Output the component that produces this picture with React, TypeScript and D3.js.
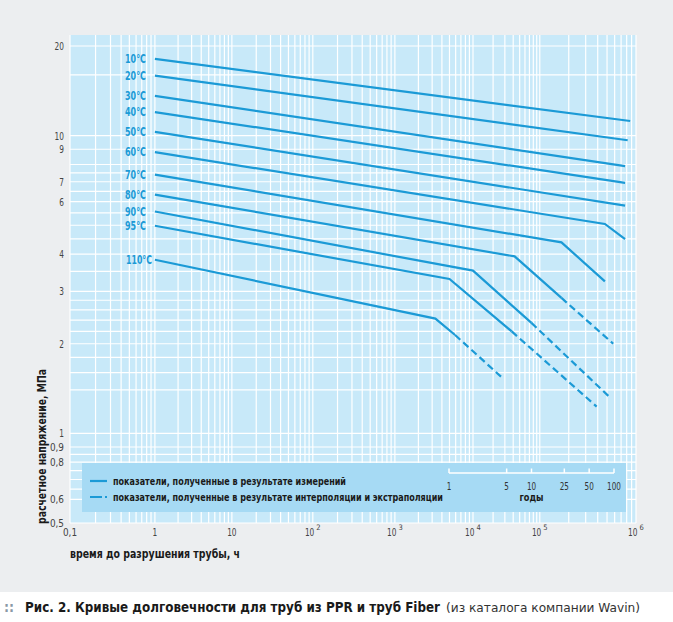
import * as d3 from "d3";

// температуры (подписи кривых)
const temps = ["10°C", "20°C", "30°C", "40°C", "50°C", "60°C", "70°C", "80°C", "90°C", "95°C", "110°C"];

// измеренные участки: [время, ч; напряжение, МПа]
const measured: [number, number][][] = [
  [[1, 18.1], [8.7e5, 11.2]],
  [[1, 15.9], [8.2e5, 9.65]],
  [[1, 13.6], [7.7e5, 7.9]],
  [[1, 12.0], [7.7e5, 6.94]],
  [[1, 10.3], [7.7e5, 5.82]],
  [[1, 8.8], [4.75e5, 5.05], [7.7e5, 4.49]],
  [[1, 7.4], [1.68e5, 4.38], [4.75e5, 3.24]],
  [[1, 6.34], [4.2e4, 3.93], [1.68e5, 2.85]],
  [[1, 5.56], [1e4, 3.52], [7.5e4, 2.35]],
  [[1, 4.98], [5e3, 3.3], [3.8e4, 2.2]],
  [[1, 3.83], [3.3e3, 2.43], [5.9e3, 2.14]],
];

// интерполяция / экстраполяция (пунктир)
const extrapolated: [number, number][][] = [
  [], [], [], [], [], [], [],
  [[1.68e5, 2.85], [5.8e5, 2.0]],
  [[7.5e4, 2.35], [5.5e5, 1.31]],
  [[3.8e4, 2.2], [3.9e5, 1.23]],
  [[5.9e3, 2.14], [2.8e4, 1.53]],
];

const xTicks = [0.1, 1, 10, 100, 1e3, 1e4, 1e5, 1e6];
const xTickLabels = ["0,1", "1", "10", "10^2", "10^3", "10^4", "10^5", "10^6"];
// доли ширины, на которых стоят декады в оригинале (шкала неравномерная)
const xTickFrac = [0, 0.15, 0.286, 0.429, 0.574, 0.712, 0.83, 1];

const yTicks = [0.5, 0.6, 0.8, 0.9, 1, 2, 3, 4, 6, 7, 9, 10, 20];
const yTickLabels = ["0,5", "0,6", "0,8", "0,9", "1", "2", "3", "4", "6", "7", "9", "10", "20"];
const yGrid = [0.5, 0.6, 0.65, 0.7, 0.75, 0.8, 0.85, 0.9, 1, 1.4, 1.6, 1.8, 2, 2.2, 2.4, 2.6, 2.8, 3, 3.5, 4, 4.5, 5, 5.5, 6, 6.5, 7, 7.5, 8, 9, 10, 16, 20];

const yearTicks = [1, 5, 10, 25, 50, 100];

const W = 673;
const H = 622;
const left = 70;
const right = 636;
const top = 35;
const bottom = 523;

const BLUE = "#1b9ad6";
const FONT = "'DejaVu Sans Condensed', 'DejaVu Sans', sans-serif";

export default function App() {
  const x = d3
    .scaleLog()
    .domain(xTicks)
    .range(xTickFrac.map((f) => left + f * (right - left)));
  const y = d3.scaleLog().domain([0.5, 20]).range([bottom, 46]);
  const years = d3.scaleLog().domain([1, 100]).range([449, 614]);

  const line = d3
    .line<[number, number]>()
    .x((d) => x(d[0]))
    .y((d) => y(d[1]));

  // сетка: минорные деления по каждой декаде
  const xGrid: number[] = [];
  for (let e = -1; e < 6; e++) {
    for (let m = 1; m < 10; m++) xGrid.push(m * Math.pow(10, e));
  }
  xGrid.push(1e6);

  const squeeze = { lengthAdjust: "spacingAndGlyphs" as const };

  return (
    <svg width={W} height={H} style={{ position: "absolute", left: 0, top: 0, display: "block" }}>
      <rect x={0} y={0} width={W} height={592} fill="#eceef0" />
      <rect x={left} y={top} width={right - left} height={bottom - top} fill="#c8e9f9" />

      {yGrid.map((v) => (
        <line key={"h" + v} x1={left} x2={right} y1={y(v)} y2={y(v)} stroke="#fff" strokeWidth={1.2} />
      ))}
      {xGrid.map((v) => (
        <line key={"v" + v} x1={x(v)} x2={x(v)} y1={top} y2={bottom} stroke="#fff" strokeWidth={1.2} />
      ))}

      {/* легенда */}
      <rect x={82} y={463} width={544} height={49} fill="#a6daf4" />
      <line x1={90} x2={107} y1={481} y2={481} stroke={BLUE} strokeWidth={2.2} />
      <line x1={90} x2={107} y1={497} y2={497} stroke={BLUE} strokeWidth={2.2} strokeDasharray="12 3 3 40" />
      <text x={113} y={484.5} fontFamily={FONT} fontWeight="bold" fontSize={11} fill="#1a1a1a" textLength={233} {...squeeze}>
        показатели, полученные в результате измерений
      </text>
      <text x={113} y={500.5} fontFamily={FONT} fontWeight="bold" fontSize={11} fill="#1a1a1a" textLength={330} {...squeeze}>
        показатели, полученные в результате интерполяции и экстраполяции
      </text>
      <line x1={years(1)} x2={years(100)} y1={473} y2={473} stroke="#fff" strokeWidth={1.5} />
      {yearTicks.map((t) => (
        <g key={"yr" + t}>
          <line x1={years(t)} x2={years(t)} y1={468.5} y2={473} stroke="#fff" strokeWidth={1.5} />
          <text x={years(t)} y={490} textAnchor="middle" fontFamily={FONT} fontSize={10.5} fill="#333" textLength={String(t).length * 4.6} {...squeeze}>
            {t}
          </text>
        </g>
      ))}
      <text x={years(10)} y={501} textAnchor="middle" fontFamily={FONT} fontWeight="bold" fontSize={11} fill="#1a1a1a" textLength={24} {...squeeze}>
        годы
      </text>

      {/* кривые */}
      {measured.map((pts, i) => (
        <path key={"m" + i} d={line(pts) ?? ""} fill="none" stroke={BLUE} strokeWidth={2.2} />
      ))}
      {extrapolated.map((pts, i) =>
        pts.length ? (
          <path key={"e" + i} d={line(pts) ?? ""} fill="none" stroke={BLUE} strokeWidth={2.2} strokeDasharray="7 4" />
        ) : null
      )}
      {temps.map((t, i) => (
        <text
          key={t}
          x={i === temps.length - 1 ? 152 : 146}
          y={y(measured[i][0][1])}
          dy="0.36em"
          textAnchor="end"
          fontFamily={FONT}
          fontWeight="bold"
          fontSize={11.5}
          fill={BLUE}
          textLength={t.length === 5 ? 26 : 21}
          {...squeeze}
        >
          {t}
        </text>
      ))}

      {/* оси */}
      {yTicks.map((v, i) => (
        <text key={"yt" + v} x={64} y={y(v)} dy="0.36em" textAnchor="end" fontFamily={FONT} fontSize={11} fill="#444" textLength={yTickLabels[i].length * 4.7} {...squeeze}>
          {yTickLabels[i]}
        </text>
      ))}
      {xTicks.map((v, i) => {
        const [base, exp] = xTickLabels[i].split("^");
        if (!exp) {
          return (
            <text key={"xt" + v} x={x(v)} y={536} textAnchor="middle" fontFamily={FONT} fontSize={11} fill="#444" textLength={base.length * 4.7} {...squeeze}>
              {base}
            </text>
          );
        }
        return (
          <g key={"xt" + v}>
            <text x={x(v) + 1.5} y={536} textAnchor="end" fontFamily={FONT} fontSize={11} fill="#444" textLength={9.4} {...squeeze}>
              {base}
            </text>
            <text x={x(v) + 3.5} y={530} fontFamily={FONT} fontSize={7.5} fill="#444">
              {exp}
            </text>
          </g>
        );
      })}
      <text
        transform={`translate(46, ${bottom + 1}) rotate(-90)`}
        fontFamily={FONT}
        fontWeight="bold"
        fontSize={12.5}
        fill="#1a1a1a"
        textLength={155}
        {...squeeze}
      >
        расчетное напряжение, МПа
      </text>
      <text x={left} y={558} fontFamily={FONT} fontWeight="bold" fontSize={12.5} fill="#1a1a1a" textLength={170} {...squeeze}>
        время до разрушения трубы, ч
      </text>

      {/* подпись */}
      <text x={4} y={612} fontFamily={FONT} fontWeight="bold" fontSize={14} fill="#8a98a6">
        ::
      </text>
      <text x={25} y={612} fontFamily={FONT} fontWeight="bold" fontSize={13.2} fill="#1a1a1a" textLength={415} {...squeeze}>
        Рис. 2. Кривые долговечности для труб из PPR и труб Fiber
      </text>
      <text x={446} y={612} fontFamily={FONT} fontSize={13} fill="#333" textLength={194} {...squeeze}>
        (из каталога компании Wavin)
      </text>
    </svg>
  );
}
